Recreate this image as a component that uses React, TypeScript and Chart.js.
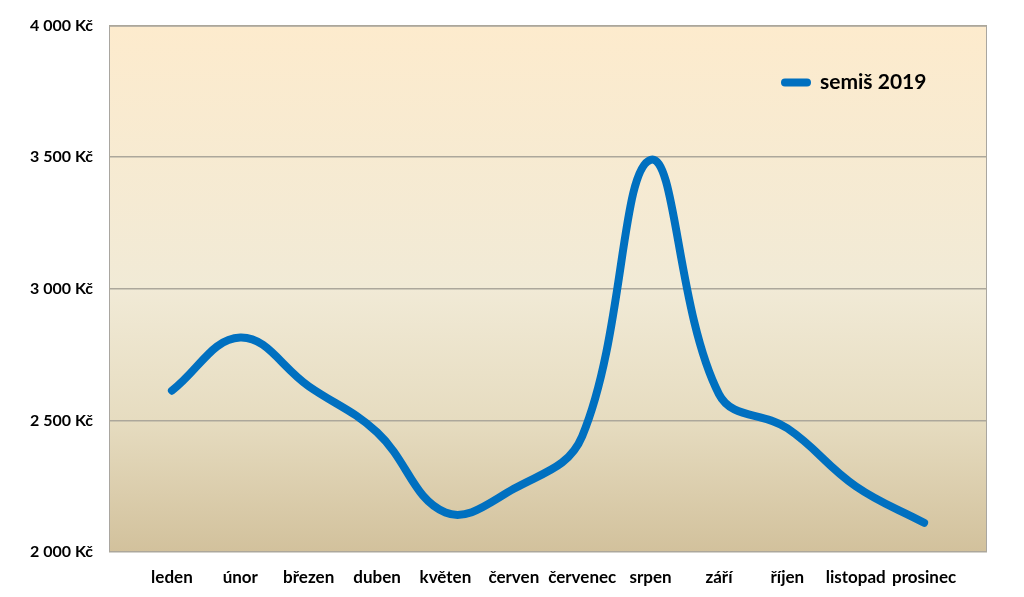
import React, { useEffect, useRef } from "react";
import { Chart, registerables } from "chart.js";

Chart.register(...registerables);

const months = ["leden", "únor", "březen", "duben", "květen", "červen", "červenec", "srpen", "září", "říjen", "listopad", "prosinec"];
const values = [2613, 2815, 2630, 2455, 2150, 2240, 2440, 3490, 2600, 2470, 2250, 2111];
const seriesName = "semiš 2019";
const yTicks = [2000, 2500, 3000, 3500, 4000];

const FONT = "Lato, 'Open Sans', sans-serif";

const fmt = (v: number) => {
  const s = Math.round(v).toString();
  return s.replace(/\B(?=(\d{3})+(?!\d))/g, " ") + " Kč";
};

const backgroundPlugin = {
  id: "plotBackground",
  beforeDraw(chart: any) {
    const { ctx, chartArea } = chart;
    const { left, top, right, bottom } = chartArea;
    const g = ctx.createLinearGradient(0, top, 0, bottom);
    g.addColorStop(0, "#FDEBCD");
    g.addColorStop(0.5, "#F1EAD6");
    g.addColorStop(0.75, "#E6DCC0");
    g.addColorStop(1, "#D2C19C");
    ctx.save();
    ctx.fillStyle = g;
    ctx.fillRect(left, top, right - left, bottom - top);
    ctx.strokeStyle = "#A9A6A0";
    ctx.lineWidth = 1;
    ctx.strokeRect(left + 0.5, top + 0.5, right - left - 1, bottom - top - 1);
    ctx.restore();
  },
};

const legendPlugin = {
  id: "customLegend",
  afterDatasetsDraw(chart: any) {
    const { ctx, chartArea } = chart;
    const x0 = chartArea.right - 202;
    const y = chartArea.top + 57;
    ctx.save();
    ctx.strokeStyle = "#0070C0";
    ctx.lineWidth = 8;
    ctx.lineCap = "round";
    ctx.beginPath();
    ctx.moveTo(x0, y);
    ctx.lineTo(x0 + 22, y);
    ctx.stroke();
    ctx.fillStyle = "#000";
    ctx.font = `bold 21px ${FONT}`;
    ctx.textBaseline = "middle";
    ctx.textAlign = "left";
    ctx.fillText(seriesName, x0 + 35, y);
    ctx.restore();
  },
};

export default function App() {
  const ref = useRef<HTMLCanvasElement | null>(null);
  useEffect(() => {
    if (!ref.current) return;
    const chart = new Chart(ref.current, {
      type: "line",
      data: {
        datasets: [
          {
            label: seriesName,
            data: values.map((v, i) => ({ x: i, y: v })),
            borderColor: "#0070C0",
            backgroundColor: "#0070C0",
            borderWidth: 8,
            borderCapStyle: "round",
            borderJoinStyle: "round",
            pointRadius: 0,
            tension: 0.4,
            fill: false,
          },
        ],
      },
      plugins: [backgroundPlugin, legendPlugin],
      options: {
        animation: false,
        responsive: false,
        maintainAspectRatio: false,
        layout: { padding: { left: 0, right: 37, top: 17, bottom: 0 } },
        plugins: { legend: { display: false }, tooltip: { enabled: false } },
        scales: {
          x: {
            type: "linear",
            min: -0.92,
            max: 11.92,
            afterBuildTicks: (scale: any) => {
              scale.ticks = months.map((_, i) => ({ value: i }));
            },
            afterFit: (scale: any) => {
              scale.height = 45;
            },
            grid: { display: false, drawTicks: false },
            border: { display: false },
            ticks: {
              autoSkip: false,
              maxRotation: 0,
              padding: 15,
              color: "#000",
              font: { family: FONT, size: 17, weight: "bold" },
              callback: (v: any) => months[Math.round(Number(v))] ?? "",
            },
          },
          y: {
            min: 2000,
            max: 4000,
            afterBuildTicks: (scale: any) => {
              scale.ticks = yTicks.map((v) => ({ value: v }));
            },
            afterFit: (scale: any) => {
              scale.width = 109;
            },
            grid: { color: "#ACA79B", lineWidth: 1.5, drawTicks: false },
            border: { display: false },
            ticks: {
              padding: 16,
              color: "#000",
              font: { family: FONT, size: 16, weight: "bold" },
              callback: (v: any) => fmt(Number(v)),
            },
          },
        },
      },
    } as any);
    return () => chart.destroy();
  }, []);
  return (
    <div style={{ position: "fixed", left: 0, top: 0, width: 1024, height: 597, background: "#fff" }}>
      <canvas ref={ref} width={1024} height={597} style={{ width: 1024, height: 597, display: "block" }} />
    </div>
  );
}
